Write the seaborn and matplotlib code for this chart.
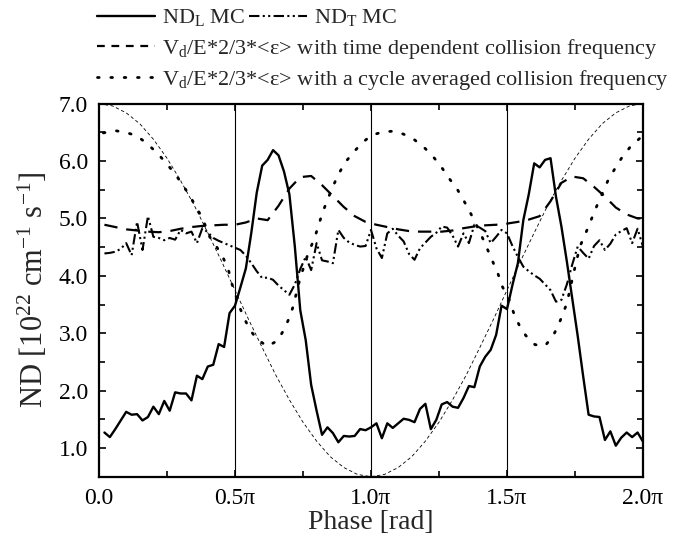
import numpy as np
import pandas as pd
import matplotlib
matplotlib.use("Agg")
import matplotlib.pyplot as plt
import seaborn as sns
from matplotlib.lines import Line2D
from matplotlib.ticker import MultipleLocator, FixedLocator, FixedFormatter

sns.set_theme(style="ticks")
plt.rcParams['font.family'] = ['Liberation Serif', 'DejaVu Serif']
plt.rcParams['mathtext.fontset'] = 'custom'
plt.rcParams['mathtext.rm'] = 'Liberation Serif'
plt.rcParams['mathtext.it'] = 'Liberation Serif:italic'

# ---------------- data (phase in units of pi) ----------------
ndl_phase = [0.02, 0.04, 0.06, 0.08, 0.10, 0.12, 0.14, 0.16, 0.18, 0.20,
             0.22, 0.24, 0.26, 0.28, 0.30, 0.32, 0.34, 0.36, 0.38, 0.40,
             0.42, 0.44, 0.46, 0.48, 0.50, 0.52, 0.54, 0.56, 0.58, 0.60,
             0.62, 0.64, 0.66, 0.68, 0.70, 0.72, 0.74, 0.76, 0.78, 0.80,
             0.82, 0.84, 0.86, 0.88, 0.90, 0.92, 0.94, 0.96, 0.98, 1.00,
             1.02, 1.04, 1.06, 1.08, 1.10, 1.12, 1.14, 1.16, 1.18, 1.20,
             1.22, 1.24, 1.26, 1.28, 1.30, 1.32, 1.34, 1.36, 1.38, 1.40,
             1.42, 1.44, 1.46, 1.48, 1.50, 1.52, 1.54, 1.56, 1.58, 1.60,
             1.62, 1.64, 1.66, 1.68, 1.70, 1.72, 1.74, 1.76, 1.78, 1.80,
             1.82, 1.84, 1.86, 1.88, 1.90, 1.92, 1.94, 1.96, 1.98, 2.00]
ndl_mc = [1.27, 1.19, 1.33, 1.48, 1.63, 1.58, 1.59, 1.48, 1.54, 1.72,
          1.59, 1.82, 1.65, 1.97, 1.95, 1.95, 1.83, 2.26, 2.20, 2.42,
          2.45, 2.81, 2.76, 3.35, 3.48, 3.80, 4.13, 4.75, 5.45, 5.92,
          6.02, 6.19, 6.10, 5.82, 5.42, 4.51, 3.40, 2.88, 2.10, 1.65,
          1.23, 1.36, 1.26, 1.10, 1.21, 1.20, 1.21, 1.33, 1.31, 1.36,
          1.43, 1.17, 1.43, 1.35, 1.43, 1.51, 1.49, 1.45, 1.68, 1.77,
          1.33, 1.49, 1.76, 1.80, 1.72, 1.70, 1.87, 2.08, 2.06, 2.42,
          2.59, 2.71, 2.97, 3.48, 3.42, 3.84, 4.22, 4.97, 5.42, 5.96,
          5.89, 6.02, 6.05, 5.38, 4.86, 4.25, 3.60, 2.95, 2.25, 1.58,
          1.55, 1.54, 1.14, 1.29, 1.04, 1.18, 1.27, 1.19, 1.27, 1.11]

ndt_mc = [4.39, 4.40, 4.42, 4.47, 4.57, 4.36, 4.94, 4.45, 5.04, 4.68,
          4.66, 4.62, 4.66, 4.63, 4.80, 4.74, 4.77, 4.57, 4.83, 4.76,
          4.66, 4.61, 4.57, 4.53, 4.49, 4.45, 4.35, 4.22, 4.08, 3.96,
          3.97, 3.93, 3.83, 3.75, 3.67, 3.85, 4.12, 4.33, 4.10, 4.57,
          4.27, 4.25, 4.22, 4.80, 4.66, 4.58, 4.54, 4.51, 4.52, 4.80,
          4.48, 4.31, 4.74, 4.82, 4.70, 4.60, 4.38, 4.28, 4.48, 4.58,
          4.68, 4.75, 4.86, 4.84, 4.70, 4.51, 4.74, 4.57, 4.89, 4.84,
          4.78, 4.57, 4.68, 4.80, 4.74, 4.52, 4.33, 4.16, 4.08, 4.01,
          3.95, 3.85, 3.75, 3.55, 3.58, 3.85, 4.20, 4.51, 4.40, 4.30,
          4.52, 4.62, 4.45, 4.56, 4.72, 4.78, 4.83, 4.57, 4.82, 4.51]

td_phase = [0.02, 0.06, 0.10, 0.14, 0.18, 0.22, 0.26, 0.30, 0.34, 0.38,
            0.42, 0.46, 0.50, 0.54, 0.58, 0.62, 0.66, 0.70, 0.74, 0.78,
            0.82, 0.86, 0.90, 0.94, 0.98, 1.02, 1.06, 1.10, 1.14, 1.18,
            1.22, 1.26, 1.30, 1.34, 1.38, 1.42, 1.46, 1.50, 1.54, 1.58,
            1.62, 1.66, 1.70, 1.74, 1.78, 1.82, 1.86, 1.90, 1.94, 1.98, 2.00]
td_value = [4.89, 4.85, 4.81, 4.79, 4.77, 4.76, 4.78, 4.82, 4.85, 4.87,
            4.88, 4.89, 4.89, 4.93, 5.00, 4.97, 5.22, 5.52, 5.72, 5.74,
            5.58, 5.39, 5.20, 5.04, 4.94, 4.89, 4.85, 4.81, 4.78, 4.77,
            4.77, 4.77, 4.79, 4.83, 4.86, 4.88, 4.89, 4.91, 4.94, 4.98,
            5.04, 5.30, 5.62, 5.73, 5.70, 5.55, 5.38, 5.19, 5.07, 5.00, 5.00]

ca_phase = [0.016, 0.059, 0.098, 0.139, 0.175, 0.212, 0.246, 0.277, 0.306, 0.335,
            0.360, 0.383, 0.407, 0.432, 0.457, 0.476, 0.488, 0.518, 0.537, 0.555,
            0.580, 0.619, 0.656, 0.680, 0.696, 0.712, 0.739, 0.766, 0.794, 0.806,
            0.819, 0.833, 0.849, 0.865, 0.883, 0.904, 0.935, 0.968, 1.002, 1.045,
            1.082, 1.119, 1.160, 1.199, 1.233, 1.264, 1.290, 1.317, 1.340, 1.362,
            1.382, 1.413, 1.432, 1.450, 1.466, 1.480, 1.508, 1.527, 1.545, 1.569,
            1.603, 1.640, 1.670, 1.689, 1.704, 1.720, 1.745, 1.768, 1.797, 1.824,
            1.848, 1.872, 1.897, 1.921, 1.952, 1.989, 2.000]
ca_value = [6.49, 6.53, 6.50, 6.44, 6.31, 6.15, 5.97, 5.79, 5.60, 5.38,
            5.18, 4.97, 4.68, 4.51, 4.31, 4.10, 3.87, 3.44, 3.23, 3.06,
            2.90, 2.77, 2.87, 3.06, 3.23, 3.44, 3.95, 4.35, 4.68, 4.86,
            5.06, 5.24, 5.43, 5.61, 5.79, 5.97, 6.15, 6.32, 6.45, 6.51,
            6.52, 6.47, 6.37, 6.22, 6.05, 5.86, 5.68, 5.51, 5.32, 5.13,
            4.94, 4.63, 4.42, 4.22, 4.05, 3.84, 3.58, 3.32, 3.14, 2.96,
            2.80, 2.78, 2.96, 3.14, 3.32, 3.52, 4.05, 4.51, 4.83, 5.15,
            5.41, 5.67, 5.87, 6.05, 6.24, 6.40, 6.50]

field_phase = [0.00, 0.05, 0.10, 0.15, 0.20, 0.25, 0.30, 0.35, 0.40, 0.45,
               0.50, 0.55, 0.60, 0.65, 0.70, 0.75, 0.80, 0.85, 0.90, 0.95,
               1.00, 1.05, 1.10, 1.15, 1.20, 1.25, 1.30, 1.35, 1.40, 1.45,
               1.50, 1.55, 1.60, 1.65, 1.70, 1.75, 1.80, 1.85, 1.90, 1.95, 2.00]
field_value = [7.00, 6.96, 6.84, 6.65, 6.38, 6.05, 5.66, 5.23, 4.75, 4.26,
               3.75, 3.24, 2.75, 2.27, 1.84, 1.45, 1.12, 0.85, 0.66, 0.54,
               0.50, 0.54, 0.66, 0.85, 1.12, 1.45, 1.84, 2.27, 2.75, 3.24,
               3.75, 4.26, 4.75, 5.23, 5.66, 6.05, 6.38, 6.65, 6.84, 6.96, 7.00]

x_ticks = [0.0, 0.5, 1.0, 1.5, 2.0]
x_tick_labels = ["0.0", "0.5\u03c0", "1.0\u03c0", "1.5\u03c0", "2.0\u03c0"]
y_ticks = [1.0, 2.0, 3.0, 4.0, 5.0, 6.0, 7.0]
y_tick_labels = ["1.0", "2.0", "3.0", "4.0", "5.0", "6.0", "7.0"]
vlines_at = [0.5, 1.0, 1.5]

legend_l = "ND$_\\mathrm{L}$ MC"
legend_t = "ND$_\\mathrm{T}$ MC"
legend_td = "V$_\\mathrm{d}$/E*2/3*<\u03b5> with time dependent collision frequency"
legend_ca = "V$_\\mathrm{d}$/E*2/3*<\u03b5> with a cycle averaged collision frequency"

# ---------------- styles ----------------
ls_l = '-'
ls_t = (0, (5, 1.6, 1, 1.6, 1, 1.6))
ls_td = (0, (6, 4))
ls_ca = (0, (0.6, 4.2))
ls_field = (0, (4, 3))

fig = plt.figure(figsize=(6.85, 5.43), dpi=100)
ax = fig.add_axes([0.1445, 0.1221, 0.7942, 0.6870])

for xv in vlines_at:
    ax.axvline(xv, color='black', lw=0.8, zorder=1)

sns.lineplot(x=field_phase, y=field_value, ax=ax, color='black', lw=0.6,
             linestyle=ls_field, estimator=None, sort=False, zorder=2)
sns.lineplot(x=ca_phase, y=ca_value, ax=ax, color='black', lw=2.0,
             linestyle=ls_ca, dash_capstyle='round', estimator=None, sort=False, zorder=3)
sns.lineplot(x=td_phase, y=td_value, ax=ax, color='black', lw=1.6,
             linestyle=ls_td, estimator=None, sort=False, zorder=3)
sns.lineplot(x=ndl_phase, y=ndt_mc, ax=ax, color='black', lw=1.5,
             linestyle=ls_t, estimator=None, sort=False, zorder=3)
sns.lineplot(x=ndl_phase, y=ndl_mc, ax=ax, color='black', lw=1.7,
             linestyle=ls_l, estimator=None, sort=False, zorder=4)

ax.set_xlim(0, 2.0)
ax.set_ylim(0.5, 7.0)
ax.xaxis.set_major_locator(FixedLocator(x_ticks))
ax.xaxis.set_major_formatter(FixedFormatter(x_tick_labels))
ax.xaxis.set_minor_locator(MultipleLocator(0.25))
ax.yaxis.set_major_locator(FixedLocator(y_ticks))
ax.yaxis.set_major_formatter(FixedFormatter(y_tick_labels))
ax.yaxis.set_minor_locator(MultipleLocator(0.5))
ax.tick_params(which='both', direction='in', top=True, right=True,
               width=1.2, colors='black', labelsize=17, pad=8)
ax.tick_params(which='major', length=5)
ax.tick_params(which='minor', length=4.5)
for sp in ax.spines.values():
    sp.set_linewidth(1.6)
    sp.set_color('black')
    sp.set_visible(True)

ax.set_xlabel("Phase [rad]", fontsize=20, labelpad=1)
ax.set_ylabel("ND [10$^{22}$ cm$^{-1}$ s$^{-1}$]", fontsize=22, labelpad=6)

# ---------------- legend (three rows above the plot) ----------------
h_l = Line2D([], [], color='black', lw=1.7, linestyle=ls_l)
h_t = Line2D([], [], color='black', lw=1.5, linestyle=ls_t)
h_td = Line2D([], [], color='black', lw=1.6, linestyle=(0, (3.5, 3.0)))
h_ca = Line2D([], [], color='black', lw=2.0, linestyle=ls_ca, dash_capstyle='round')

common = dict(frameon=False, loc='center left', fontsize=16, handlelength=2.6,
              handletextpad=0.3, borderpad=0, borderaxespad=0, columnspacing=0.2)
fig.legend([h_l, h_t], [legend_l, legend_t], ncol=2,
           bbox_to_anchor=(0.142, 1 - 18 / 543), **common)
fig.legend([h_td], [legend_td], bbox_to_anchor=(0.142, 1 - 49 / 543), **common)
fig.legend([h_ca], [legend_ca], bbox_to_anchor=(0.142, 1 - 80 / 543), **common)

fig.savefig("out.png", dpi=100)
